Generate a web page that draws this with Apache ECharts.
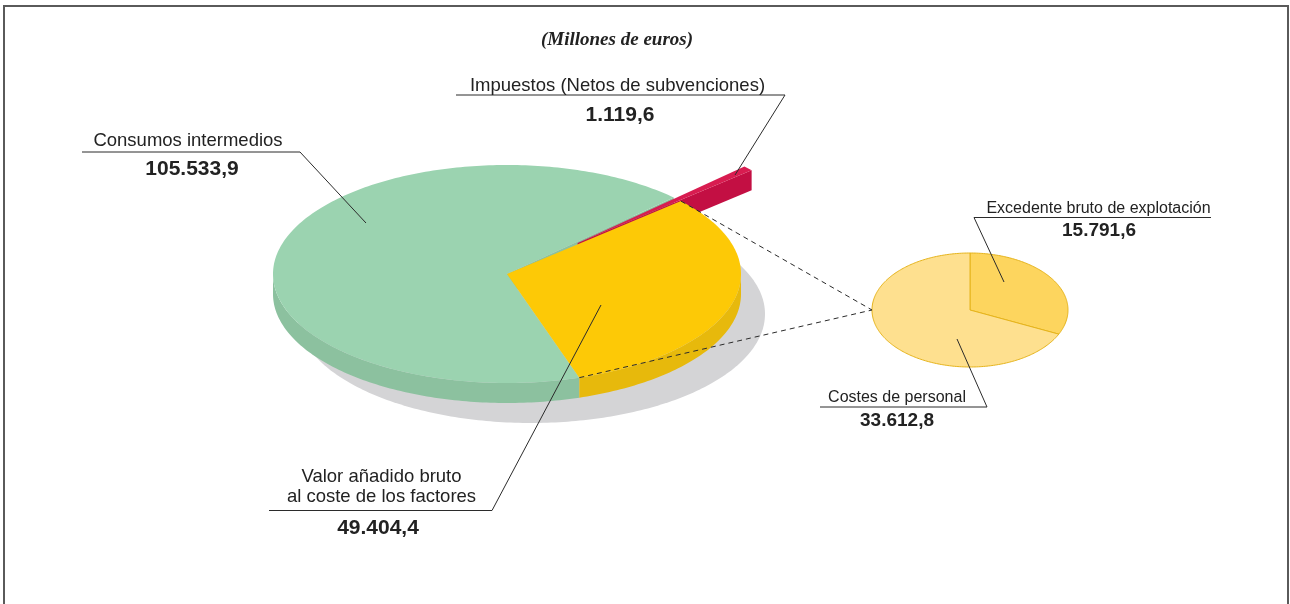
<!DOCTYPE html>
<html><head><meta charset="utf-8">
<script src="https://cdn.jsdelivr.net/npm/echarts@6/dist/echarts.min.js"></script>
<style>html,body{margin:0;padding:0;background:#fff}#c{width:1290px;height:604px}</style>
</head><body><div id="c"></div>
<script>
// ---- data ----
const title = '(Millones de euros)';
const categories = ['Consumos intermedios', 'Impuestos (Netos de subvenciones)', 'Valor añadido bruto\nal coste de los factores'];
const values = [105533.9, 1119.6, 49404.4];
const subCategories = ['Excedente bruto de explotación', 'Costes de personal'];
const subValues = [15791.6, 33612.8];
const explodeIndex = 1;   // Impuestos slice pulled out
const detailIndex = 2;    // slice broken down in the small pie

// ---- geometry & style ----
const D = Math.PI / 180;
const MAIN = {cx: 507, cy: 274, rx: 234, ry: 109, depth: 20, start: 72, explode: 97};
const SHADOW = {dx: 24, dy: 40, fill: '#d4d4d6'};
const SUB = {cx: 970, cy: 310, rx: 98, ry: 57, start: -90};
const mainColors = [
  {top: '#9bd3b0', side: '#8cc19f'},
  {top: '#d81c50', side: '#c30f43'},
  {top: '#fdc906', side: '#e7b90c'}
];
const subColors = ['#fdd55e', '#fee08f'];
const subStroke = '#e6b41c';
const ink = '#222';
const SANS = "'Liberation Sans', Arial, sans-serif";

function fmt(v) {
  const parts = v.toFixed(1).split('.');
  return parts[0].replace(/\B(?=(\d{3})+(?!\d))/g, '.') + ',' + parts[1];
}
function angles(vals, start) {
  const tot = vals.reduce((s, v) => s + v, 0);
  let a = start;
  return vals.map(v => { const b = a + v / tot * 360; const r = {a, b}; a = b; return r; });
}
function arc(cx, cy, rx, ry, a, b) {
  const pts = [];
  const n = Math.max(2, Math.ceil(Math.abs(b - a)));
  for (let k = 0; k <= n; k++) {
    const t = (a + (b - a) * k / n) * D;
    pts.push([cx + rx * Math.cos(t), cy + ry * Math.sin(t)]);
  }
  return pts;
}
const mainAng = angles(values, MAIN.start);
const subAng = angles(subValues, SUB.start);

function renderShadow(params, api) {
  const pts = arc(MAIN.cx + SHADOW.dx, MAIN.cy + SHADOW.dy, MAIN.rx, MAIN.ry, 0, 360);
  return {type: 'polygon', shape: {points: pts}, style: {fill: SHADOW.fill}};
}

function renderMain(params, api) {
  const i = params.dataIndex;
  const {a, b} = mainAng[i];
  const G = MAIN, col = mainColors[i];
  let ox = 0, oy = 0;
  if (i === explodeIndex) {
    const m = (a + b) / 2 * D;
    ox = G.explode * Math.cos(m);
    oy = G.explode * Math.sin(m) * G.ry / G.rx;
  }
  const cx = G.cx + ox, cy = G.cy + oy;
  const ch = [];
  // outer wall (front half only)
  for (const k of [-360, 0, 360]) {
    const s = Math.max(a, k), e = Math.min(b, k + 180);
    if (e > s) {
      const top = arc(cx, cy, G.rx, G.ry, s, e);
      const bot = top.map(p => [p[0], p[1] + G.depth]).reverse();
      ch.push({type: 'polygon', shape: {points: top.concat(bot)}, style: {fill: col.side}});
    }
  }
  // radial walls next to the exploded slice
  const n = values.length;
  const self = i === explodeIndex;
  const prevEx = (i - 1 + n) % n === explodeIndex, nextEx = (i + 1) % n === explodeIndex;
  const faces = [];
  if ((self || prevEx) && Math.cos(a * D) < 0) faces.push(a);
  if ((self || nextEx) && Math.cos(b * D) > 0) faces.push(b);
  faces.forEach(t => {
    const px = cx + G.rx * Math.cos(t * D), py = cy + G.ry * Math.sin(t * D);
    ch.push({type: 'polygon', shape: {points: [[cx, cy], [px, py], [px, py + G.depth], [cx, cy + G.depth]]},
      style: {fill: col.side}});
  });
  // top face
  const pts = [[cx, cy]].concat(arc(cx, cy, G.rx, G.ry, a, b));
  ch.push({type: 'polygon', shape: {points: pts}, style: {fill: col.top}});
  return {type: 'group', children: ch};
}

function renderSub(params, api) {
  const i = params.dataIndex;
  const {a, b} = subAng[i];
  const pts = [[SUB.cx, SUB.cy]].concat(arc(SUB.cx, SUB.cy, SUB.rx, SUB.ry, a, b));
  return {type: 'polygon', shape: {points: pts},
    style: {fill: subColors[i], stroke: subStroke, lineWidth: 1, lineJoin: 'round'}};
}

// ---- annotations ----
const labelFont = '18.5px ' + SANS;
const numFont = 'bold 21px ' + SANS;
const subLabelFont = '16px ' + SANS;
const subNumFont = 'bold 19px ' + SANS;

function txt(x, y, text, font, extra) {
  return Object.assign({type: 'text', x: x, y: y, z: 20,
    style: {text: text, font: font, fill: ink, textAlign: 'center', textVerticalAlign: 'middle',
      align: 'center', verticalAlign: 'middle', lineHeight: 20.5}}, extra || {});
}
function pl(points, dashed) {
  return {type: 'polyline', z: 19, shape: {points: points},
    style: {stroke: '#2b2b2b', lineWidth: 1, fill: null, lineDash: dashed ? [5, 4] : null}};
}

const mainLabelPos = [
  {tx: 188, ty: 140.5, nx: 192, ny: 169.5, line: [[82, 152], [300, 152], [366, 223]]},
  {tx: 617.5, ty: 86, nx: 620, ny: 115.5, line: [[456, 95], [785, 95], [735, 175]]},
  {tx: 381.5, ty: 487, nx: 378, ny: 528, line: [[269, 510.5], [492, 510.5], [601, 305]]}
];
const subLabelPos = [
  {tx: 1098.5, ty: 208.5, nx: 1099, ny: 231, line: [[1211, 217.5], [974, 217.5], [1004, 282]]},
  {tx: 897, ty: 398, nx: 897, ny: 421, line: [[820, 407], [987, 407], [957, 339]]}
];

const graphics = [];
graphics.push({type: 'polyline', z: 30, shape: {points: [[4, 604], [4, 6], [1288, 6], [1288, 604]]},
  style: {stroke: '#5a5a5a', lineWidth: 2, fill: null}});
graphics.push(txt(617, 40, title, "italic bold 19px 'Liberation Serif', 'Times New Roman', serif"));
categories.forEach((c, i) => {
  const p = mainLabelPos[i];
  graphics.push(pl(p.line));
  graphics.push(txt(p.tx, p.ty, c, labelFont));
  graphics.push(txt(p.nx, p.ny, fmt(values[i]), numFont));
});
subCategories.forEach((c, i) => {
  const p = subLabelPos[i];
  graphics.push(pl(p.line));
  graphics.push(txt(p.tx, p.ty, c, subLabelFont));
  graphics.push(txt(p.nx, p.ny, fmt(subValues[i]), subNumFont));
});
// connector lines from detailed slice to the small pie
{
  const {a, b} = mainAng[detailIndex];
  const target = [SUB.cx - SUB.rx, SUB.cy];
  [a, b].forEach(t => {
    const p = [MAIN.cx + MAIN.rx * Math.cos(t * D), MAIN.cy + MAIN.ry * Math.sin(t * D)];
    graphics.push(pl([p, target], true));
  });
}

const chart = echarts.init(document.getElementById('c'), null, {renderer: 'canvas'});
chart.setOption({
  animation: false,
  backgroundColor: '#fff',
  series: [
    {type: 'custom', coordinateSystem: 'none', z: 1, silent: true, renderItem: renderShadow, data: [0]},
    {type: 'custom', coordinateSystem: 'none', z: 2, silent: true, renderItem: renderMain,
      data: values.map((v, i) => ({name: categories[i], value: v}))},
    {type: 'custom', coordinateSystem: 'none', z: 2, silent: true, renderItem: renderSub,
      data: subValues.map((v, i) => ({name: subCategories[i], value: v}))}
  ],
  graphic: {elements: graphics}
});
</script>
</body></html>
